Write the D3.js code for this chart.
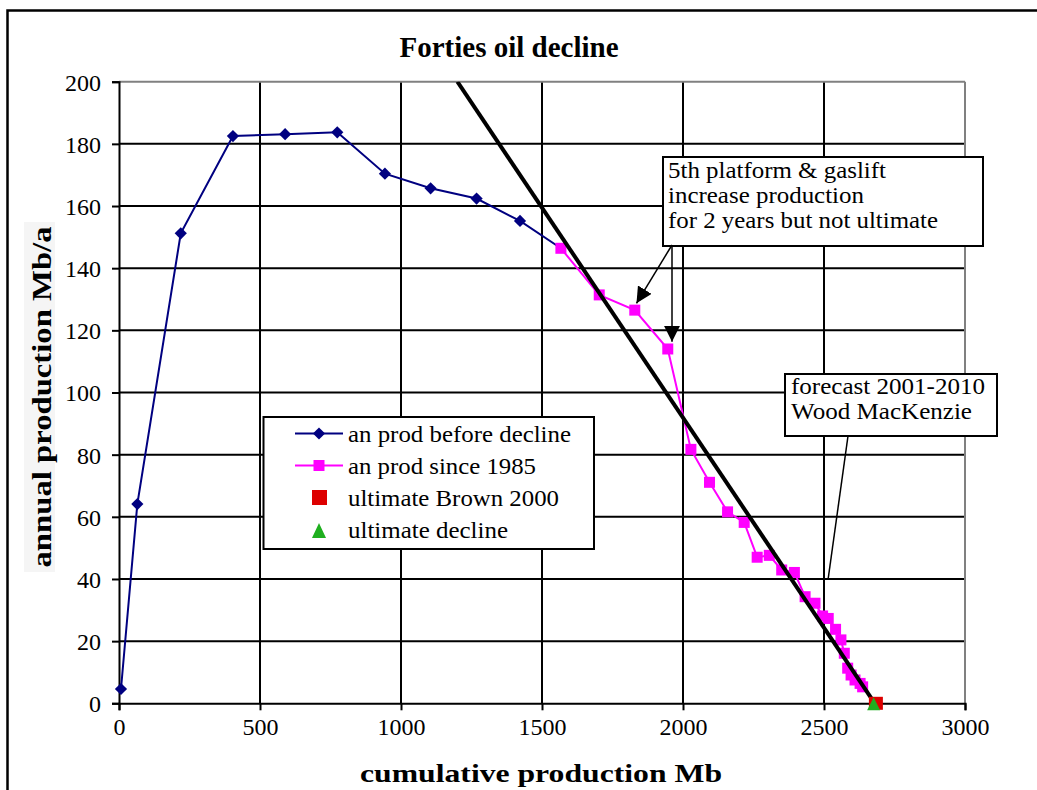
<!DOCTYPE html>
<html>
<head>
<meta charset="utf-8">
<script src="https://cdn.jsdelivr.net/npm/d3@7"></script>
<style>
  html, body { margin: 0; padding: 0; background: #fff; }
  svg { display: block; font-family: "Liberation Serif", "Times New Roman", serif; }
</style>
</head>
<body>
<svg id="chart" width="1037" height="790"></svg>
<script>
// ---- data ----
const beforeX = [7, 65, 219, 404, 589, 774, 943, 1105, 1268, 1422, 1567];
const beforeY = [4.6, 64.1, 151.2, 182.5, 183.1, 183.7, 170.4, 165.7, 162.4, 155.2, 146.4];
const sinceX = [1567, 1703, 1829, 1946, 2028, 2094, 2158, 2217, 2263, 2306, 2350, 2395, 2433, 2468, 2495, 2515, 2541, 2560, 2572, 2584, 2596, 2610, 2628, 2637];
const sinceY = [146.4, 131.4, 126.5, 114.0, 81.7, 71.1, 61.6, 58.2, 47.0, 47.6, 42.9, 42.1, 34.3, 32.2, 28.1, 27.3, 23.8, 20.4, 16.1, 11.3, 9.1, 7.5, 6.4, 5.3];
const declineX = [1200, 2680];
const declineY = [200, 0];
const brownX = [2684];
const brownY = [0];
const ultX = [2676];
const ultY = [0];
const xTicks = [0, 500, 1000, 1500, 2000, 2500, 3000];
const yTicks = [0, 20, 40, 60, 80, 100, 120, 140, 160, 180, 200];
const legendLabels = ["an prod before decline", "an prod since 1985", "ultimate Brown 2000", "ultimate decline"];
const legendWidths = [223, 188, 211, 160];
const note1 = ["5th platform & gaslift", "increase production", "for 2 years but not ultimate"];
const note1Widths = [218, 196, 270];
const note2 = ["forecast 2001-2010", "Wood MacKenzie"];
const note2Widths = [194, 181];

const NAVY = "#000080", MAG = "#FF00FF", RED = "#DD0000", GREEN = "#1FAF1F";

const svg = d3.select("#chart");
const x = d3.scaleLinear().domain([0, 3000]).range([119, 965]);
const y = d3.scaleLinear().domain([0, 200]).range([703.3, 81.7]);
const FS = 24;

// outer frame
svg.append("rect").attr("x", 7.5).attr("y", 10.5).attr("width", 1040).attr("height", 800)
  .attr("fill", "#fff").attr("stroke", "#000").attr("stroke-width", 2.5);

// title
svg.append("text").attr("x", 509).attr("y", 57).attr("text-anchor", "middle")
  .attr("font-weight", "bold").attr("font-size", 29).text("Forties oil decline");

// grid
const g = svg.append("g");
g.selectAll(".gx").data(xTicks.filter(d => d > 0 && d < 3000)).join("line")
  .attr("x1", d => x(d)).attr("x2", d => x(d)).attr("y1", y(0)).attr("y2", y(200))
  .attr("stroke", "#000").attr("stroke-width", 2);
g.selectAll(".gy").data(yTicks.filter(d => d > 0 && d < 200)).join("line")
  .attr("x1", x(0)).attr("x2", x(3000)).attr("y1", d => y(d)).attr("y2", d => y(d))
  .attr("stroke", "#000").attr("stroke-width", 2);
g.append("line").attr("x1", x(0)).attr("x2", x(3000)).attr("y1", y(200)).attr("y2", y(200))
  .attr("stroke", "#808080").attr("stroke-width", 2);
g.append("line").attr("x1", x(3000)).attr("x2", x(3000)).attr("y1", y(200)).attr("y2", y(0))
  .attr("stroke", "#808080").attr("stroke-width", 2);

// axes
const xAxis = d3.axisBottom(x).tickValues(xTicks).tickSize(7).tickPadding(8).tickFormat(d3.format("d"));
const yAxis = d3.axisLeft(y).tickValues(yTicks).tickSize(7).tickPadding(11).tickFormat(d3.format("d"));
const gx = svg.append("g").attr("transform", `translate(0,${y(0)})`).call(xAxis);
const gy = svg.append("g").attr("transform", `translate(${x(0)},0)`).call(yAxis);
[gx, gy].forEach(a => {
  a.select(".domain").attr("stroke", "#000").attr("stroke-width", 2);
  a.selectAll(".tick line").attr("stroke", "#000").attr("stroke-width", 2);
  a.selectAll(".tick text").attr("font-family", "Liberation Serif").attr("font-size", FS).attr("fill", "#000");
});
gy.selectAll(".tick text").attr("dy", "0.35em");

// axis titles
svg.append("text").attr("x", 541).attr("y", 782).attr("text-anchor", "middle")
  .attr("font-weight", "bold").attr("font-size", 25)
  .attr("textLength", 362).attr("lengthAdjust", "spacingAndGlyphs").text("cumulative production Mb");
svg.append("rect").attr("x", 24).attr("y", 222).attr("width", 31).attr("height", 350).attr("fill", "#f5f5f5");
svg.append("text").attr("transform", "translate(51,397) rotate(-90)").attr("text-anchor", "middle")
  .attr("font-weight", "bold").attr("font-size", 27)
  .attr("textLength", 341).attr("lengthAdjust", "spacingAndGlyphs").text("annual production Mb/a");

// clip
svg.append("clipPath").attr("id", "plotclip").append("rect")
  .attr("x", x(0)).attr("y", y(200)).attr("width", x(3000) - x(0)).attr("height", y(0) - y(200) + 10);

const line = d3.line().x(d => x(d[0])).y(d => y(d[1]));
const before = beforeX.map((v, i) => [v, beforeY[i]]);
const since = sinceX.map((v, i) => [v, sinceY[i]]);

svg.append("path").attr("d", line(before)).attr("fill", "none").attr("stroke", NAVY).attr("stroke-width", 2);
svg.selectAll(".dia").data(before.slice(0, -1)).join("path")
  .attr("transform", d => `translate(${x(d[0])},${y(d[1])})`)
  .attr("d", d3.symbol(d3.symbolDiamond2, 95)).attr("fill", NAVY);

svg.append("path").attr("d", line(since)).attr("fill", "none").attr("stroke", MAG).attr("stroke-width", 2);
svg.selectAll(".sq").data(since).join("rect")
  .attr("x", d => x(d[0]) - 5.5).attr("y", d => y(d[1]) - 5.5).attr("width", 11).attr("height", 11).attr("fill", MAG);

// decline line
const decline = declineX.map((v, i) => [v, declineY[i]]);
svg.append("path").attr("d", line(decline)).attr("clip-path", "url(#plotclip)")
  .attr("fill", "none").attr("stroke", "#000").attr("stroke-width", 4);

// ultimate markers
svg.selectAll(".br").data(brownX.map((v, i) => [v, brownY[i]])).join("rect")
  .attr("x", d => x(d[0]) - 7).attr("y", d => y(d[1]) - 6.5).attr("width", 14).attr("height", 13).attr("fill", RED);
const tri = (cx, cy, w, h) => `M${cx},${cy - h / 2} L${cx + w / 2},${cy + h / 2} L${cx - w / 2},${cy + h / 2} Z`;
svg.selectAll(".ul").data(ultX.map((v, i) => [v, ultY[i]])).join("path")
  .attr("d", d => tri(x(d[0]), y(d[1]) + 0.5, 13, 13)).attr("fill", GREEN);

// legend
const lg = svg.append("g");
lg.append("rect").attr("x", 263.5).attr("y", 417).attr("width", 330.5).attr("height", 132)
  .attr("fill", "#fff").attr("stroke", "#000").attr("stroke-width", 2);
const rowsY = [433.5, 465.5, 497.5, 530];
lg.append("line").attr("x1", 295).attr("x2", 343).attr("y1", rowsY[0]).attr("y2", rowsY[0]).attr("stroke", NAVY).attr("stroke-width", 2);
lg.append("path").attr("transform", `translate(319,${rowsY[0]})`).attr("d", d3.symbol(d3.symbolDiamond2, 95)).attr("fill", NAVY);
lg.append("line").attr("x1", 295).attr("x2", 343).attr("y1", rowsY[1]).attr("y2", rowsY[1]).attr("stroke", MAG).attr("stroke-width", 2);
lg.append("rect").attr("x", 313.5).attr("y", rowsY[1] - 5.5).attr("width", 11).attr("height", 11).attr("fill", MAG);
lg.append("rect").attr("x", 312).attr("y", rowsY[2] - 7.5).attr("width", 15).attr("height", 15).attr("fill", RED);
lg.append("path").attr("d", tri(319, rowsY[3] + 0.5, 14, 15)).attr("fill", GREEN);
lg.selectAll(".lt").data(legendLabels).join("text")
  .attr("x", 348).attr("y", (d, i) => rowsY[i]).attr("dy", "0.35em")
  .attr("font-size", FS).attr("textLength", (d, i) => legendWidths[i]).attr("lengthAdjust", "spacingAndGlyphs")
  .text(d => d);

// arrowhead
const defs = svg.append("defs");
defs.append("marker").attr("id", "arr").attr("viewBox", "0 0 10 10").attr("refX", 10).attr("refY", 5)
  .attr("markerWidth", 16).attr("markerHeight", 16).attr("markerUnits", "userSpaceOnUse").attr("orient", "auto")
  .append("path").attr("d", "M0,0 L10,5 L0,10 z").attr("fill", "#000");

// annotation 1
const a1 = svg.append("g");
a1.append("rect").attr("x", 663).attr("y", 157).attr("width", 320).attr("height", 89)
  .attr("fill", "#fff").attr("stroke", "#000").attr("stroke-width", 2);
a1.selectAll("text").data(note1).join("text").attr("x", 668).attr("y", (d, i) => 178 + i * 25)
  .attr("font-size", FS).attr("textLength", (d, i) => note1Widths[i]).attr("lengthAdjust", "spacingAndGlyphs")
  .text(d => d);
const startX = 672, startY = 245;
a1.append("line").attr("x1", startX).attr("y1", startY).attr("x2", x(1835)).attr("y2", y(128.7))
  .attr("stroke", "#000").attr("stroke-width", 1.5).attr("marker-end", "url(#arr)");
a1.append("line").attr("x1", startX).attr("y1", startY).attr("x2", startX).attr("y2", y(116.3))
  .attr("stroke", "#000").attr("stroke-width", 1.5).attr("marker-end", "url(#arr)");

// annotation 2
const a2 = svg.append("g");
a2.append("line").attr("x1", 848).attr("y1", 436).attr("x2", 828).attr("y2", 580)
  .attr("stroke", "#000").attr("stroke-width", 1.5);
a2.append("rect").attr("x", 785).attr("y", 374).attr("width", 212).attr("height", 62)
  .attr("fill", "#fff").attr("stroke", "#000").attr("stroke-width", 2);
a2.selectAll("text").data(note2).join("text").attr("x", 791).attr("y", (d, i) => 394 + i * 25)
  .attr("font-size", FS).attr("textLength", (d, i) => note2Widths[i]).attr("lengthAdjust", "spacingAndGlyphs")
  .text(d => d);
</script>
</body>
</html>
